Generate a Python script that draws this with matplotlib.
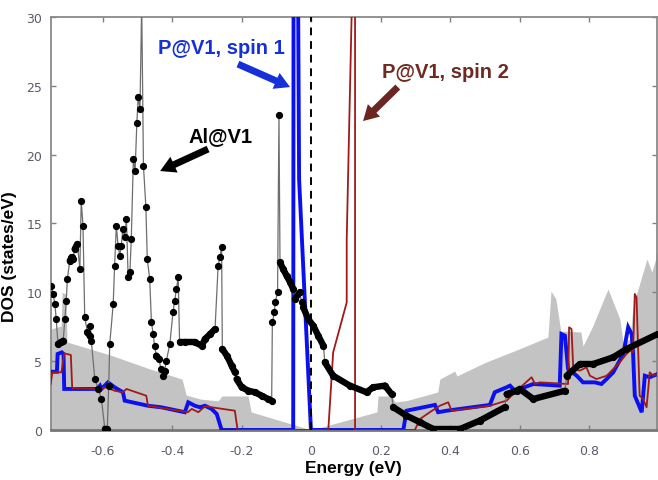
import numpy as np
import matplotlib
matplotlib.use('Agg')
import matplotlib.pyplot as plt
from matplotlib.collections import LineCollection

# total DOS (gray background)
tot_e = [-0.750, -0.720, -0.717, -0.706, -0.703, -0.579, -0.464, -0.372, -0.360, -0.320,
         -0.268, -0.257, -0.182, -0.173, 0.0, 0.189, 0.192, 0.232, 0.241, 0.274,
         0.364, 0.370, 0.413, 0.419, 0.500, 0.600, 0.681, 0.690, 0.704, 0.718,
         0.776, 0.782, 0.810, 0.854, 0.888, 0.897, 0.917, 0.926, 0.966, 0.980, 0.997]
tot_dos = [7.33, 7.55, 10.0, 9.88, 6.39, 5.45, 4.43, 3.70, 2.54, 2.25,
           2.11, 2.47, 2.47, 1.31, 0.0, 1.31, 2.47, 2.47, 2.03, 2.13,
           2.76, 3.70, 4.28, 3.92, 4.90, 5.90, 6.75, 10.09, 9.51, 7.19,
           7.12, 6.10, 7.55, 10.24, 8.06, 6.39, 6.61, 9.00, 12.42, 11.47, 12.93]

# Al@V1
al_e = [-0.748, -0.743, -0.738, -0.734, -0.729, -0.721, -0.714, -0.709, -0.705, -0.702,
        -0.695, -0.690, -0.686, -0.681, -0.673, -0.666, -0.662, -0.657, -0.652, -0.644,
        -0.638, -0.636, -0.633, -0.623, -0.613, -0.604, -0.594, -0.587, -0.583, -0.580,
        -0.570, -0.566, -0.561, -0.556, -0.551, -0.547, -0.542, -0.537, -0.532, -0.527,
        -0.522, -0.518, -0.512, -0.507, -0.502, -0.498, -0.493, -0.488, -0.483, -0.476,
        -0.472, -0.465, -0.460, -0.455, -0.451, -0.446, -0.438, -0.433, -0.427, -0.422,
        -0.417, -0.407, -0.398, -0.393, -0.388, -0.383, -0.379, -0.363, -0.335, -0.315,
        -0.306, -0.291, -0.277, -0.268, -0.263, -0.258, -0.256, -0.243, -0.229, -0.220,
        -0.215, -0.200, -0.181, -0.162, -0.143, -0.124, -0.114, -0.112, -0.106, -0.104,
        -0.097, -0.093, -0.090, -0.081, -0.071, -0.061, -0.052, -0.047, -0.033, -0.028,
        -0.023, -0.009, 0.006, 0.020, 0.035, 0.039, 0.063, 0.111, 0.159, 0.178,
        0.212, 0.231, 0.236, 0.274, 0.313, 0.351, 0.428, 0.485, 0.557, 0.562,
        0.591, 0.600, 0.639, 0.730, 0.735, 0.773, 0.811, 0.869, 0.907, 0.997]
al_dos = [10.48, 9.88, 9.15, 8.06, 6.25, 6.37, 6.48, 8.06, 9.39, 10.97,
          12.29, 12.54, 12.42, 13.14, 13.51, 11.69, 16.65, 14.84, 8.18, 7.10,
          6.85, 7.58, 6.48, 3.70, 2.98, 2.25, 0.07, 0.07, 3.22, 6.25,
          9.15, 11.93, 14.84, 13.38, 12.66, 13.38, 14.60, 13.99, 15.32, 11.09,
          11.45, 13.87, 19.68, 18.83, 22.27, 24.20, 23.31, 31.0, 19.19, 16.22,
          12.42, 10.97, 7.82, 6.97, 6.12, 5.40, 5.16, 4.43, 3.94, 4.31,
          5.03, 6.25, 8.55, 9.39, 10.24, 11.09, 6.37, 6.37, 6.37, 6.12,
          6.61, 6.97, 7.33, 11.93, 12.54, 13.27, 5.88, 5.40, 4.67, 4.19,
          3.70, 3.10, 2.85, 2.74, 2.49, 2.25, 2.13, 7.82, 8.55, 9.27,
          10.00, 22.87, 12.18, 11.69, 11.21, 10.73, 10.24, 9.51, 10.00, 9.27,
          8.91, 8.06, 7.57, 6.85, 6.12, 4.92, 3.94, 3.22, 2.74, 3.10,
          3.22, 2.61, 1.65, 1.04, 0.56, 0.07, 0.07, 0.68, 1.65, 2.61,
          2.85, 2.98, 2.25, 2.85, 3.94, 4.79, 4.79, 5.28, 5.88, 6.97]

# P@V1 spin 1
s1_e = [-0.750, -0.732, -0.730, -0.718, -0.713, -0.711, -0.617, -0.608, -0.604, -0.585,
        -0.566, -0.542, -0.537, -0.470, -0.432, -0.364, -0.354, -0.335, -0.320, -0.306,
        -0.287, -0.272, -0.258, -0.052, -0.051, -0.038, -0.035, -0.001, 0.265, 0.274,
        0.356, 0.365, 0.390, 0.514, 0.528, 0.562, 0.572, 0.586, 0.639, 0.715,
        0.720, 0.730, 0.739, 0.764, 0.782, 0.816, 0.835, 0.850, 0.869, 0.898,
        0.912, 0.922, 0.926, 0.931, 0.951, 0.960, 0.974, 0.997]
s1_dos = [4.23, 4.23, 5.52, 5.64, 5.52, 2.98, 2.98, 3.22, 2.98, 3.46,
          3.10, 2.74, 2.13, 1.76, 1.65, 1.29, 2.01, 1.76, 1.65, 1.76,
          1.53, 1.16, 0.0, 0.0, 32.0, 32.0, 18.2, 0.0, 0.0, 1.40,
          1.82, 1.29, 1.40, 1.82, 2.74, 3.10, 3.22, 2.85, 3.34, 3.22,
          6.97, 6.85, 4.43, 3.94, 3.46, 3.46, 3.34, 3.70, 4.19, 5.52,
          7.46, 6.97, 5.64, 2.49, 1.29, 3.94, 3.83, 4.07]

# P@V1 spin 2
s2_e = [-0.750, -0.745, -0.719, -0.711, -0.692, -0.688, -0.614, -0.590, -0.566, -0.542,
        -0.532, -0.475, -0.470, -0.355, -0.344, -0.325, -0.306, -0.220, -0.212, 0.049,
        0.063, 0.102, 0.102, 0.116, 0.120, 0.126, 0.126, 0.298, 0.313, 0.341,
        0.370, 0.394, 0.404, 0.514, 0.562, 0.591, 0.634, 0.644, 0.658, 0.739,
        0.742, 0.749, 0.754, 0.773, 0.792, 0.802, 0.821, 0.850, 0.869, 0.888,
        0.907, 0.917, 0.926, 0.931, 0.936, 0.945, 0.955, 0.965, 0.974, 0.984, 0.997]
s2_dos = [3.34, 4.19, 4.19, 5.57, 5.45, 3.05, 2.98, 3.10, 2.85, 2.74,
          2.98, 2.49, 1.76, 1.29, 1.53, 1.29, 1.72, 1.40, 0.0, 0.0,
          5.64, 9.27, 13.87, 30.0, 32.0, 30.0, 0.0, 0.0, 0.80, 1.29,
          1.76, 2.01, 1.40, 1.76, 2.13, 2.85, 3.83, 3.34, 3.46, 3.34,
          7.46, 7.33, 4.43, 4.31, 4.55, 3.94, 3.70, 3.94, 4.43, 4.92,
          5.52, 5.76, 5.64, 9.88, 9.64, 2.49, 2.25, 1.65, 4.19, 3.94, 4.07]

xticks = [-0.6, -0.4, -0.2, 0.0, 0.2, 0.4, 0.6, 0.8]
xtick_labels = ['-0.6', '-0.4', '-0.2', '0', '0.2', '0.4', '0.6', '0.8']
yticks = [0, 5, 10, 15, 20, 25, 30]

blue = '#0a10f0'
red = '#a01a1a'
brown = '#6e2a20'
tick_font = ['Liberation Sans Narrow', 'DejaVu Sans']
bold_font = ['Liberation Sans', 'DejaVu Sans']

fig = plt.figure(figsize=(6.58, 4.81), dpi=100)
ax = fig.add_axes([0.077, 0.104, 0.9215, 0.8586])
xmin, xmax, ymin, ymax = -0.75, 0.995, 0, 30

ax.fill_between(tot_e, tot_dos, 0, color='#c3c3c3', lw=0, zorder=1)
ax.plot(s1_e, s1_dos, color=blue, lw=2.8, zorder=3, solid_joinstyle='miter')
ax.plot(s2_e, s2_dos, color=red, lw=1.3, zorder=4)
ax.axvline(0, color='black', lw=1.4, ls=(0, (4, 3)), zorder=5)

# Al@V1: thin connecting line, dots, and a thick band where dots overlap
ax.plot(al_e, al_dos, color='#6e6e6e', lw=0.9, zorder=6)
ax.plot(al_e, al_dos, 'o', color='black', ms=4.2, zorder=7)
ae, ad = np.array(al_e), np.array(al_dos)
px_x = 347.6
px_y = 13.77
segs = []
for i in range(len(ae) - 1):
    dx = abs(ae[i + 1] - ae[i]) * px_x
    dy = abs(ad[i + 1] - ad[i]) * px_y
    if dy < 2.5 * dx:
        segs.append([(ae[i], ad[i]), (ae[i + 1], ad[i + 1])])
ax.add_collection(LineCollection(segs, colors='black', linewidths=4.6,
                                 capstyle='round', zorder=7))

ax.set_xlim(xmin, xmax)
ax.set_ylim(ymin, ymax)
ax.set_xticks(xticks)
ax.set_xticklabels(xtick_labels)
ax.set_yticks(yticks)
ax.tick_params(direction='in', top=True, right=True, length=3.5, width=1,
               color='#808080', labelcolor='#5a5a6a', labelsize=9)
ax.tick_params(axis='x', pad=10)
ax.tick_params(axis='y', pad=6)
for lab in ax.get_xticklabels() + ax.get_yticklabels():
    lab.set_family(tick_font)
for sp in ax.spines.values():
    sp.set_color('#8a8a8a')
    sp.set_linewidth(1.3)
ax.spines['bottom'].set_color('#777777')
ax.spines['bottom'].set_linewidth(2)

ax.set_xlabel('Energy (eV)', fontsize=12.5, fontweight='bold', family=bold_font, labelpad=2)
ax.set_ylabel('DOS (states/eV)', fontsize=12.5, fontweight='bold', family=bold_font)
ax.yaxis.set_label_coords(-0.056, 0.421)

ax.text(-0.260, 27.81, 'P@V1, spin 1', color='#1530d8', fontsize=14.5, fontweight='bold',
        family=bold_font, ha='center', va='center', zorder=9)
ax.text(0.385, 26.07, 'P@V1, spin 2', color=brown, fontsize=14.5, fontweight='bold',
        family=bold_font, ha='center', va='center', zorder=9)
ax.text(-0.260, 21.35, 'Al@V1', color='black', fontsize=14.5, fontweight='bold',
        family=bold_font, ha='center', va='center', zorder=9)

arrow_style = 'simple,head_width=1.25,head_length=1.1,tail_width=0.5'
ax.annotate('', xy=(-0.061, 24.91), xytext=(-0.211, 26.58),
            arrowprops=dict(arrowstyle=arrow_style, color='#1530d8', lw=0, shrinkA=0, shrinkB=0),
            zorder=9)
ax.annotate('', xy=(0.149, 22.44), xytext=(0.249, 24.91),
            arrowprops=dict(arrowstyle=arrow_style, color='#6b2622', lw=0, shrinkA=0, shrinkB=0),
            zorder=9)
ax.annotate('', xy=(-0.435, 18.81), xytext=(-0.297, 20.41),
            arrowprops=dict(arrowstyle=arrow_style, color='black', lw=0, shrinkA=0, shrinkB=0),
            zorder=9)

fig.savefig('out.png', dpi=100)
